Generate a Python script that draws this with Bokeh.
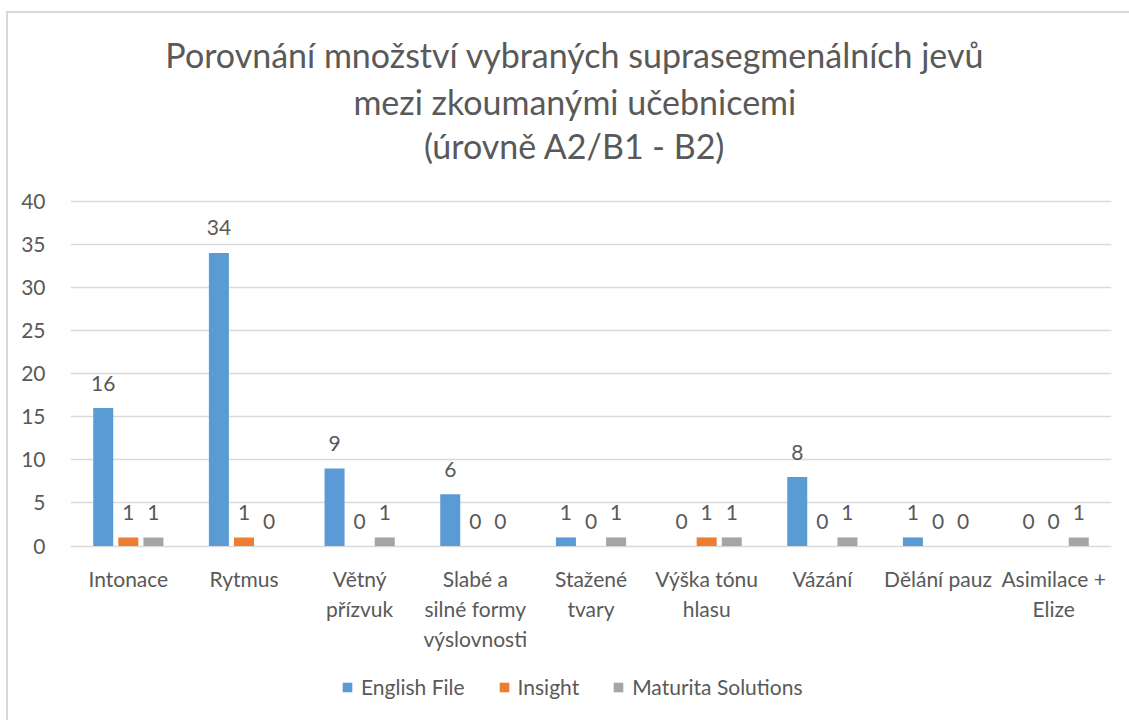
from bokeh.plotting import figure
from bokeh.models import (ColumnDataSource, FactorRange, Legend, LegendItem,
                          FixedTicker, Range1d)
from bokeh.transform import dodge
from bokeh.core.properties import value
from bokeh.embed import file_html
from bokeh.resources import INLINE

# ---- data ----
categories = ["Intonace", "Rytmus", "Větný\npřízvuk", "Slabé a\nsilné formy\nvýslovnosti",
              "Stažené\ntvary", "Výška tónu\nhlasu", "Vázání", "Dělání pauz",
              "Asimilace +\nElize"]
series_names = ["English File", "Insight", "Maturita Solutions"]
english_file = [16, 34, 9, 6, 1, 0, 8, 1, 0]
insight = [1, 1, 0, 0, 0, 1, 0, 0, 0]
maturita = [1, 0, 1, 0, 1, 1, 1, 0, 1]
y_ticks = [0, 5, 10, 15, 20, 25, 30, 35, 40]
title_lines = ["Porovnání množství vybraných suprasegmenálních jevů",
               "mezi zkoumanými učebnicemi",
               "(úrovně A2/B1 - B2)"]

colors = ["#5B9BD5", "#ED7D31", "#A5A5A5"]
FONT = "Lato"
TXT = "#595959"

source = ColumnDataSource(dict(cat=categories, ef=english_file, ins=insight, mat=maturita,
                               zero=[0] * len(categories),
                               ef_t=[str(v) for v in english_file],
                               ins_t=[str(v) for v in insight],
                               mat_t=[str(v) for v in maturita]))

W, H = 1129, 720
# frame covers the full height; the value axis 0..40 occupies the middle band
PX_PER_UNIT = 345.0 / 40
y_lo = -(720 - 545.5) / PX_PER_UNIT
y_hi = 40 + 200.7 / PX_PER_UNIT
p = figure(width=W, height=H, x_range=FactorRange(factors=categories, range_padding=0),
           y_range=Range1d(y_lo, y_hi), output_backend="svg", toolbar_location=None,
           min_border_left=70, min_border_right=18, min_border_top=0,
           min_border_bottom=0)
p.outline_line_color = None
p.background_fill_alpha = 0
p.border_fill_alpha = 0
# light grey chart-area border on the left and top edges
p.styles = {"box-shadow": "inset 6px 11px 0 0 #ffffff, inset 8px 13px 0 0 #d9d9d9",
            "background-color": "#ffffff"}

offsets = [-0.217, 0.0, 0.217]
cols = ["ef", "ins", "mat"]
renderers = []
for off, col, c in zip(offsets, cols, colors):
    r = p.vbar(x=dodge("cat", off, range=p.x_range), top=col, width=0.173, bottom=0,
               source=source, fill_color=c, line_color=None)
    renderers.append(r)
    p.text(x=dodge("cat", off, range=p.x_range), y=col, text=col + "_t", source=source,
           text_font=value(FONT), text_font_size="21px", text_color=TXT,
           text_align="center", text_baseline="middle", y_offset=-25)

# category labels under the zero line
p.text(x="cat", y="zero", text="cat", source=source, text_font=value(FONT),
       text_font_size="21px", text_color=TXT, text_align="center",
       text_baseline="top", y_offset=20, text_line_height=1.19)

# axes
p.yaxis.ticker = FixedTicker(ticks=y_ticks)
p.yaxis.axis_line_color = None
p.yaxis.major_tick_line_color = None
p.yaxis.minor_tick_line_color = None
p.yaxis.major_label_text_font = FONT
p.yaxis.major_label_text_font_size = "21px"
p.yaxis.major_label_text_color = TXT
p.yaxis.major_label_standoff = 19
p.xaxis.visible = False

p.xgrid.grid_line_color = None
p.ygrid.ticker = FixedTicker(ticks=y_ticks)
p.ygrid.grid_line_color = "#D9D9D9"
p.ygrid.grid_line_width = 1.5

# title: three centred lines above the value band
title_src = ColumnDataSource(dict(x=[4.36] * 3, y=[57.0, 51.6, 46.5], t=title_lines))
p.text(x="x", y="y", text="t", source=title_src, text_font=value(FONT),
       text_font_size="34px", text_color=TXT, text_align="center",
       text_baseline="middle")

# legend
legend = Legend(items=[LegendItem(label=n, renderers=[r]) for n, r in zip(series_names, renderers)],
                orientation="horizontal", location=(271, 21),
                glyph_width=12, glyph_height=12, label_standoff=8, spacing=33,
                label_text_font=FONT, label_text_font_size="21px", label_text_color=TXT,
                label_height=21, padding=0, margin=0, border_line_color=None,
                background_fill_alpha=0)
p.add_layout(legend, "center")

open("out.html", "w").write(file_html(p, INLINE))
